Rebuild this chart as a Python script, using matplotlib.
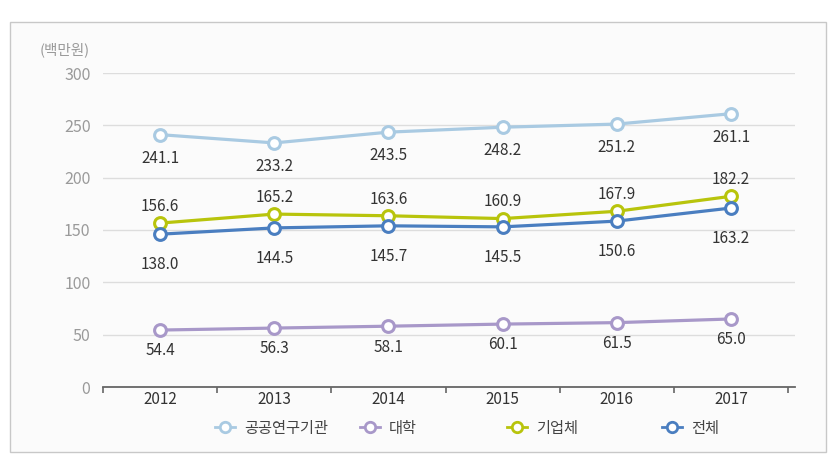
import matplotlib.pyplot as plt
from matplotlib.patches import Rectangle
from matplotlib.lines import Line2D

plt.rcParams['font.family'] = ['Noto Sans CJK KR', 'DejaVu Sans']

years = ['2012', '2013', '2014', '2015', '2016', '2017']
names = ['공공연구기관', '대학', '기업체', '전체']
colors = ['#a9cae2', '#a898c9', '#b8c40c', '#4a7ec0']

# values as plotted
public_vals = [241.1, 233.2, 243.5, 248.2, 251.2, 261.1]
univ_vals = [54.4, 56.3, 58.1, 60.1, 61.5, 65.0]
corp_vals = [156.6, 165.2, 163.6, 160.9, 167.9, 182.2]
total_vals = [146.0, 152.0, 154.0, 153.0, 158.5, 171.0]

# value labels as printed
public_lbl = ['241.1', '233.2', '243.5', '248.2', '251.2', '261.1']
univ_lbl = ['54.4', '56.3', '58.1', '60.1', '61.5', '65.0']
corp_lbl = ['156.6', '165.2', '163.6', '160.9', '167.9', '182.2']
total_lbl = ['138.0', '144.5', '145.7', '145.5', '150.6', '163.2']

series = [public_vals, univ_vals, corp_vals, total_vals]
labels = [public_lbl, univ_lbl, corp_lbl, total_lbl]
offsets = [-17, -15, 12, -22]  # points, negative = below

fig = plt.figure(figsize=(8.35, 4.66), dpi=100)
fig.patch.set_facecolor('white')
fig.patches.append(Rectangle((10/835, 1-452/466), 816/835, 430/466, transform=fig.transFigure,
                             facecolor='#fbfbfb', edgecolor='#c8c8c8', lw=1, zorder=-1))

ax = fig.add_axes([103/835, 1-387/466, 692/835, 314/466])
ax.set_facecolor('none')
x = list(range(len(years)))

for vals, lbls, c, off in zip(series, labels, colors, offsets):
    ax.plot(x, vals, color=c, lw=2.3, marker='o', ms=8.5, mfc='white', mec=c, mew=2.2, zorder=3)
    for xi, v, t in zip(x, vals, lbls):
        ax.annotate(t, (xi, v), xytext=(0, off), textcoords='offset points',
                    ha='center', va='center', fontsize=11, color='#333333')

ax.set_xlim(-0.5, 5.56)
ax.set_ylim(0, 300)
ax.set_yticks(range(0, 301, 50))
ax.grid(axis='y', color='#dddddd', lw=1)
ax.set_axisbelow(True)
for s in ['top', 'right', 'left']:
    ax.spines[s].set_visible(False)
ax.spines['bottom'].set_color('#666666')
ax.spines['bottom'].set_linewidth(1.3)
ax.tick_params(axis='y', length=0, labelcolor='#9a9a9a', labelsize=11.5, pad=9)
ax.set_xticks(x)
ax.set_xticklabels(years, fontsize=11, color='#333333')
ax.tick_params(axis='x', length=0, pad=3)
ax.set_xticks([i + 0.5 for i in range(-1, 6)], minor=True)
ax.tick_params(axis='x', which='minor', length=4, direction='out', color='#666666', width=1.2)

fig.text(65/835, 1-50/466, '(백만원)', fontsize=10.5, color='#9a9a9a', ha='center', va='center')

# legend entries placed in even columns like the original
leg_x = [215, 360, 507, 662]
for name, c, lx in zip(names, colors, leg_x):
    h = Line2D([0], [0], color=c, lw=2, marker='o', ms=7.5, mfc='white', mec=c, mew=2)
    lg = fig.legend([h], [name], loc='center left', bbox_to_anchor=(lx/835, 1-428/466),
                    frameon=False, fontsize=11, handlelength=1.3, handletextpad=0.6,
                    borderpad=0, borderaxespad=0, labelcolor='#444444')

fig.savefig('out.png', dpi=100)
